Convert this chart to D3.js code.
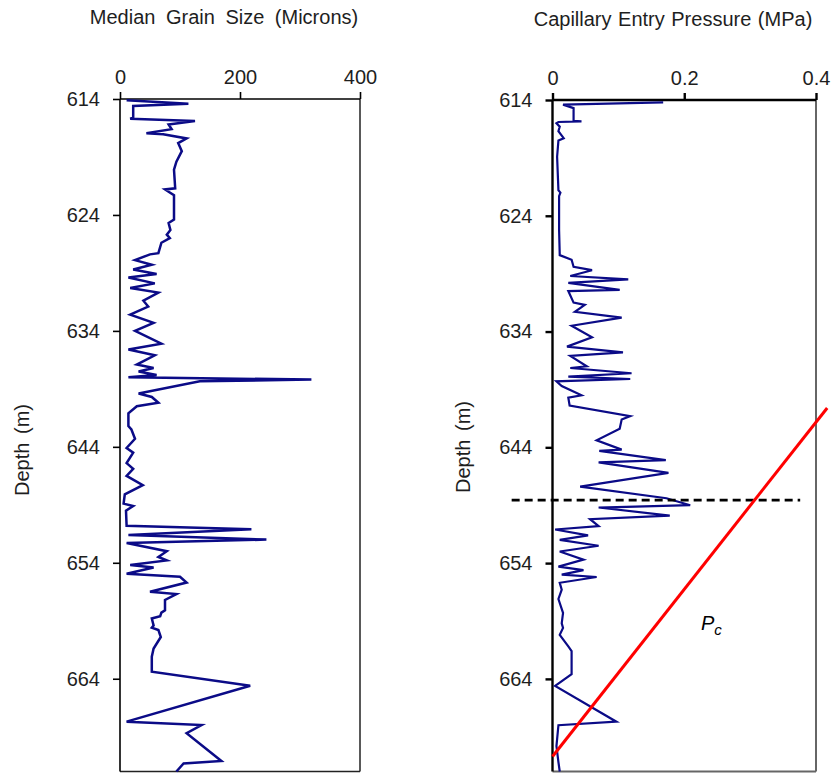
<!DOCTYPE html>
<html>
<head>
<meta charset="utf-8">
<script src="https://cdn.jsdelivr.net/npm/d3@7"></script>
<style>
  html, body { margin: 0; padding: 0; background: #fff; }
  svg { display: block; font-family: "Liberation Sans", Arial, sans-serif; }
</style>
</head>
<body>
<svg id="chart" width="834" height="773"></svg>
<script>
// Median grain size log (depth in m, size in microns)
const grainDepth = [614.1, 614.4, 614.6, 615.6, 615.7, 615.9, 616.2, 616.6, 616.95, 617.05, 617.4, 617.8, 618.5, 619.4, 620.1, 621.7, 621.8, 622.3, 624.4, 624.7, 625.3, 625.7, 626.0, 626.4, 627.3, 627.4, 627.9, 628.3, 628.7, 629.1, 629.4, 629.9, 630.3, 630.7, 631.4, 631.9, 632.6, 633.3, 634.0, 635.1, 635.6, 636.1, 636.9, 637.2, 637.5, 637.8, 638.0, 638.2, 638.35, 639.4, 639.7, 640.2, 640.5, 641.1, 642.2, 642.5, 643.3, 644.1, 644.5, 645.4, 645.9, 646.5, 647.3, 648.1, 648.9, 649.1, 649.5, 650.8, 651.1, 651.6, 652.0, 652.3, 653.0, 653.5, 653.8, 654.2, 654.4, 654.95, 655.2, 655.7, 656.5, 656.7, 657.2, 658.1, 658.3, 658.6, 658.8, 659.4, 659.6, 659.8, 660.4, 661.4, 662.1, 663.4, 664.6, 667.7, 668.0, 668.7, 671.1, 671.3, 672.0];
const grainSize = [11, 114, 22, 22, 17, 125, 81, 86, 44, 72, 111, 97, 103, 94, 90, 92, 75, 90, 90, 81, 84, 78, 83, 69, 64, 50, 25, 53, 22, 61, 14, 58, 17, 64, 39, 47, 17, 56, 25, 69, 14, 58, 28, 56, 31, 61, 14, 319, 133, 31, 53, 64, 28, 14, 14, 19, 25, 11, 22, 11, 22, 11, 38, 8, 6, 22, 10, 11, 219, 14, 244, 11, 78, 64, 78, 17, 56, 11, 100, 111, 50, 94, 75, 75, 69, 67, 53, 56, 53, 64, 68, 56, 53, 53, 217, 11, 136, 111, 169, 106, 94];

// Capillary entry pressure log (depth in m, pressure in MPa)
const pcDepth = [614.2, 614.4, 614.7, 615.8, 615.85, 615.9, 616.0, 616.3, 616.7, 617.3, 617.5, 618.9, 621.8, 622.0, 622.3, 625.2, 627.4, 627.8, 628.4, 628.7, 629.2, 629.5, 629.8, 630.4, 630.5, 631.5, 631.7, 632.3, 632.8, 633.5, 634.5, 635.3, 635.8, 636.1, 637.0, 637.15, 637.6, 637.9, 638.1, 638.3, 638.7, 639.5, 639.7, 640.4, 641.3, 641.6, 642.4, 643.4, 644.2, 644.3, 645.1, 645.3, 646.2, 647.4, 648.4, 649.0, 649.2, 649.9, 650.2, 650.8, 651.1, 651.6, 652.0, 652.5, 653.0, 653.7, 654.3, 654.6, 655.0, 655.2, 655.7, 656.3, 657.1, 658.3, 659.2, 659.6, 660.2, 661.2, 661.6, 663.6, 664.6, 667.7, 668.0, 669.8, 671.2, 672.0];
const pcValue = [0.168, 0.016, 0.032, 0.032, 0.044, 0.009, 0.006, 0.011, 0.009, 0.017, 0.009, 0.007, 0.009, 0.012, 0.010, 0.010, 0.011, 0.029, 0.032, 0.060, 0.027, 0.115, 0.024, 0.102, 0.024, 0.032, 0.049, 0.034, 0.105, 0.029, 0.060, 0.022, 0.107, 0.027, 0.052, 0.027, 0.120, 0.024, 0.118, 0.006, 0.014, 0.044, 0.024, 0.026, 0.118, 0.105, 0.102, 0.067, 0.105, 0.071, 0.172, 0.070, 0.176, 0.042, 0.173, 0.209, 0.070, 0.178, 0.057, 0.070, 0.004, 0.054, 0.011, 0.070, 0.011, 0.047, 0.009, 0.047, 0.014, 0.067, 0.011, 0.014, 0.009, 0.016, 0.014, 0.016, 0.011, 0.024, 0.029, 0.029, 0.004, 0.097, 0.009, 0.006, 0.009, 0.011];

// Seal capacity trend line (pressure vs depth) and seal-base depth marker
const trendPressure = [0, 0.417];
const trendDepth = [670.7, 640.6];
const sealDepth = 648.56;
const sealPressureSpan = [-0.062, 0.376];

// Axis ticks and labels
const depthTicks = [614, 624, 634, 644, 654, 664];
const grainTicks = [0, 200, 400];
const pcTicks = [0, 0.2, 0.4];
const grainTitle = "Median Grain Size (Microns)";
const pcTitle = "Capillary Entry Pressure (MPa)";
const depthTitle = "Depth (m)";

const svg = d3.select("#chart");
const FONT = 20;
const lineColor = "#0b0b87";
const textColor = "#1e1e1e";

function panel(opts) {
  const g = svg.append("g");
  const x = d3.scaleLinear().domain(opts.xDomain).range([opts.left, opts.right]);
  const y = d3.scaleLinear().domain([614, 672]).range([opts.top, opts.bottom]);

  // frame: right and bottom edges
  g.append("line").attr("x1", opts.right).attr("x2", opts.right)
    .attr("y1", opts.top).attr("y2", opts.bottom)
    .attr("stroke", opts.frameColor).attr("stroke-width", opts.frameWidth);
  g.append("line").attr("x1", opts.left).attr("x2", opts.right)
    .attr("y1", opts.bottom).attr("y2", opts.bottom)
    .attr("stroke", opts.frameColor).attr("stroke-width", opts.frameWidth);

  // data clip
  const clipId = "clip" + opts.id;
  svg.append("clipPath").attr("id", clipId).append("rect")
    .attr("x", opts.left).attr("y", opts.top - 2)
    .attr("width", opts.right - opts.left).attr("height", opts.bottom - opts.top + 4);

  // top axis
  const xAxis = d3.axisTop(x).tickValues(opts.xTicks).tickFormat(opts.xFormat)
    .tickSizeInner(7).tickSizeOuter(0).tickPadding(8);
  const xg = g.append("g").attr("transform", `translate(0,${opts.top})`).call(xAxis);
  // left axis
  const yAxis = d3.axisLeft(y).tickValues(depthTicks).tickFormat(d3.format("d"))
    .tickSizeInner(7).tickSizeOuter(0).tickPadding(13);
  const yg = g.append("g").attr("transform", `translate(${opts.left},0)`).call(yAxis);

  [xg, yg].forEach(a => {
    a.select(".domain").attr("stroke", "#000").attr("stroke-width", opts.axisWidth);
    a.selectAll(".tick line").attr("stroke", "#000").attr("stroke-width", opts.axisWidth);
    a.selectAll(".tick text").attr("fill", textColor).style("font-size", FONT + "px")
      .style("font-family", '"Liberation Sans", Arial, sans-serif');
  });
  xg.select(".domain").attr("d", `M${opts.left},0H${opts.right}`);
  yg.select(".domain").attr("d", `M0,${opts.top}V${opts.bottom}`);

  // titles
  g.append("text").attr("x", opts.titleX).attr("y", opts.titleY)
    .attr("text-anchor", "middle").attr("fill", textColor)
    .style("font-size", FONT + "px").style("word-spacing", opts.wordSpacing)
    .text(opts.title);
  g.append("text")
    .attr("transform", `translate(${opts.depthLabelX},${opts.depthLabelY}) rotate(-90)`)
    .attr("text-anchor", "middle").attr("fill", textColor)
    .style("font-size", FONT + "px").style("word-spacing", "3px")
    .text(depthTitle);

  return { g, x, y, clipId };
}

// Left panel: grain size
const L = panel({
  id: "L", left: 120, right: 360, top: 99, bottom: 771.5,
  xDomain: [0, 400], xTicks: grainTicks, xFormat: d3.format("d"),
  axisWidth: 1.6, frameColor: "#222", frameWidth: 1.5,
  title: grainTitle, titleX: 224, titleY: 24, wordSpacing: "5px",
  depthLabelX: 29, depthLabelY: 450
});
const grainLine = d3.line()
  .x((d, i) => L.x(grainSize[i]))
  .y((d, i) => L.y(grainDepth[i]));
L.g.append("path").datum(grainDepth)
  .attr("clip-path", `url(#${L.clipId})`)
  .attr("d", grainLine).attr("fill", "none")
  .attr("stroke", lineColor).attr("stroke-width", 2.5)
  .attr("stroke-linejoin", "miter");

// Right panel: capillary entry pressure
const R = panel({
  id: "R", left: 552.5, right: 816, top: 100, bottom: 771.5,
  xDomain: [0, 0.4], xTicks: pcTicks, xFormat: d => d === 0 ? "0" : d3.format(".1f")(d),
  axisWidth: 2.4, frameColor: "#666", frameWidth: 2,
  title: pcTitle, titleX: 673, titleY: 26, wordSpacing: "1px",
  depthLabelX: 470, depthLabelY: 447
});
const pcLine = d3.line()
  .x((d, i) => R.x(pcValue[i]))
  .y((d, i) => R.y(pcDepth[i]));
R.g.append("path").datum(pcDepth)
  .attr("clip-path", `url(#${R.clipId})`)
  .attr("d", pcLine).attr("fill", "none")
  .attr("stroke", lineColor).attr("stroke-width", 2.2)
  .attr("stroke-linejoin", "miter");

// seal base marker
R.g.append("line")
  .attr("x1", R.x(sealPressureSpan[0])).attr("x2", R.x(sealPressureSpan[1]))
  .attr("y1", R.y(sealDepth)).attr("y2", R.y(sealDepth))
  .attr("stroke", "#000").attr("stroke-width", 2.6).attr("stroke-dasharray", "8,5");

// capillary pressure trend
R.g.append("path").datum(trendPressure)
  .attr("d", d3.line().x((d) => R.x(d)).y((d, i) => R.y(trendDepth[i])))
  .attr("fill", "none").attr("stroke", "#ff0000").attr("stroke-width", 3);

const pc = R.g.append("text").attr("x", 701).attr("y", 630)
  .attr("fill", "#000").style("font-size", FONT + "px").style("font-style", "italic");
pc.append("tspan").text("P");
pc.append("tspan").attr("dy", 5).style("font-size", "15px").text("c");
</script>
</body>
</html>
